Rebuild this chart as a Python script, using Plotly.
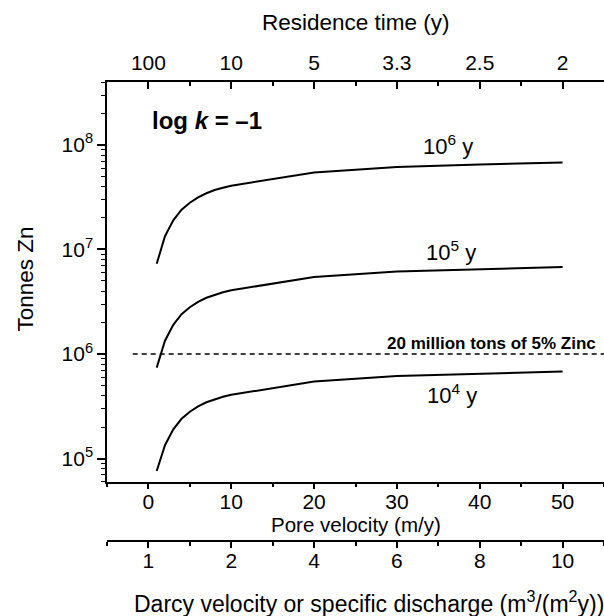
import math
import plotly.graph_objects as go

# ---- data ----
pore_velocity = [1, 2, 3, 4, 5, 6, 7, 8, 9, 10, 20, 30, 40, 50]
tonnes_1e6y = [7.3e6, 1.34e7, 1.9e7, 2.4e7, 2.8e7, 3.15e7, 3.45e7, 3.7e7, 3.9e7, 4.07e7, 5.45e7, 6.15e7, 6.5e7, 6.8e7]
tonnes_1e5y = [7.4e5, 1.34e6, 1.9e6, 2.4e6, 2.8e6, 3.15e6, 3.45e6, 3.7e6, 3.9e6, 4.07e6, 5.45e6, 6.15e6, 6.5e6, 6.8e6]
tonnes_1e4y = [7.6e4, 1.34e5, 1.9e5, 2.4e5, 2.8e5, 3.15e5, 3.45e5, 3.7e5, 3.9e5, 4.07e5, 5.45e5, 6.15e5, 6.5e5, 6.8e5]
ore_line_x = [-1.9, 55]
ore_line_y = [1e6, 1e6]

x_tickvals = [0, 10, 20, 30, 40, 50]
x_minor_vals = [-5, 5, 15, 25, 35, 45, 55]
pore_labels = ["<span>0</span>", "10", "20", "30", "40", "50"]
residence_labels = ["100", "10", "5", "3.3", "2.5", "2"]
darcy_labels = ["1", "2", "4", "6", "8", "10"]
y_tickvals = [1e5, 1e6, 1e7, 1e8]
y_ticktext = ["10<sup>5</sup>", "10<sup>6</sup>", "10<sup>7</sup>", "10<sup>8</sup>"]
y_minor_vals = [k * 10 ** e for e in range(4, 9) for k in range(2, 10)]

FONT = "Liberation Sans, Arial, sans-serif"
TICK = 21
Y_DOMAIN_BOTTOM = 0.1292

fig = go.Figure()
for ys in (tonnes_1e6y, tonnes_1e5y, tonnes_1e4y):
    fig.add_trace(go.Scatter(x=pore_velocity, y=ys, mode="lines",
                             line=dict(color="black", width=2),
                             showlegend=False, hoverinfo="skip"))
fig.add_trace(go.Scatter(x=ore_line_x, y=ore_line_y, mode="lines",
                         line=dict(color="black", width=1.4, dash="5px,4px"),
                         showlegend=False, hoverinfo="skip"))
# carriers for the extra axes
for ax in ("x2", "x3", "x4", "x5"):
    fig.add_trace(go.Scatter(x=[None], y=[None], xaxis=ax, yaxis="y",
                             showlegend=False, hoverinfo="skip"))

xr = [-5, 55]
common = dict(range=xr, showgrid=False, zeroline=False, showline=True,
              linecolor="black", linewidth=1.5, tickcolor="black", tickwidth=1.5,
              tickmode="array", tickvals=x_tickvals,
              tickfont=dict(family=FONT, size=TICK, color="black"))
minor_out = dict(ticks="outside", ticklen=4, tickwidth=1.5, tickcolor="black",
                 tickmode="array", tickvals=x_minor_vals)
label_only = dict(range=xr, overlaying="x", anchor="free", side="bottom",
                  showgrid=False, zeroline=False, showline=False,
                  ticks="outside", ticklen=1, tickcolor="rgba(0,0,0,0)",
                  tickmode="array", tickvals=x_tickvals,
                  tickfont=dict(family=FONT, size=TICK, color="black"))

fig.update_layout(
    width=604, height=616,
    margin=dict(l=107, r=0, t=82, b=75),
    paper_bgcolor="white", plot_bgcolor="white",
    showlegend=False,
    # pore-velocity axis: line + ticks
    xaxis=dict(**common, anchor="y", side="bottom", ticks="outside", ticklen=6,
               ticktext=pore_labels, showticklabels=False, minor=minor_out),
    # pore-velocity axis: labels
    xaxis4=dict(**label_only, position=Y_DOMAIN_BOTTOM, ticktext=pore_labels),
    # residence time (top)
    xaxis2=dict(**common, overlaying="x", anchor="y", side="top", ticks="inside", ticklen=7,
                ticktext=residence_labels, ticklabelstandoff=2,
                minor=dict(ticks="inside", ticklen=4, tickwidth=1.5, tickcolor="black",
                           tickmode="array", tickvals=x_minor_vals)),
    # Darcy velocity (lower): line + ticks
    xaxis3=dict(**common, overlaying="x", anchor="free", position=0, side="bottom",
                ticks="outside", ticklen=6, ticktext=darcy_labels, showticklabels=False,
                minor=minor_out),
    # Darcy velocity (lower): labels
    xaxis5=dict(**label_only, position=0, ticktext=darcy_labels),
    yaxis=dict(type="log", range=[math.log10(6e4), math.log10(4e8)], domain=[Y_DOMAIN_BOTTOM, 1],
               showgrid=False, zeroline=False, showline=True, linecolor="black", linewidth=1.5,
               ticks="outside", ticklen=8, tickwidth=1.5, tickcolor="black",
               tickmode="array", tickvals=y_tickvals, ticktext=y_ticktext,
               tickfont=dict(family=FONT, size=TICK, color="black"),
               minor=dict(ticks="outside", ticklen=4, tickwidth=1.2, tickcolor="black",
                          tickmode="array", tickvals=y_minor_vals)),
)

def ann(text, x, y, size, xref="x", yref="y", xanchor="center", yanchor="middle", angle=0):
    fig.add_annotation(text=text, x=x, y=y, xref=xref, yref=yref, showarrow=False,
                       xanchor=xanchor, yanchor=yanchor, textangle=angle,
                       font=dict(family=FONT, size=size, color="black"))

# in-plot labels
ann("<b>log <i>k</i> = –1</b>", 0.2, 8.23, 24, xanchor="left")
ann("10<sup>6</sup> y", 36.2, 8.0, 22)
ann("10<sup>5</sup> y", 36.5, 6.985, 22)
ann("10<sup>4</sup> y", 36.7, 5.62, 22)
ann("<b>20 million tons of 5% Zinc</b>", 41.4, 6.10, 17)

# axis titles
ann("Residence time (y)", 0.5, (541 - 23) / 459, 22.5, xref="paper", yref="paper")
ann("Pore velocity (m/y)", 0.5, (541 - 524) / 459, 20.5, xref="paper", yref="paper")
ann("Darcy velocity or specific discharge (m<sup>3</sup>/(m<sup>2</sup>y))",
    (369 - 107) / 497, (541 - 602) / 459, 23, xref="paper", yref="paper")
ann("Tonnes Zn", (25 - 107) / 497, (541 - 279.5) / 459, 22.5, xref="paper", yref="paper", angle=-90)

fig.write_html("out.html")
